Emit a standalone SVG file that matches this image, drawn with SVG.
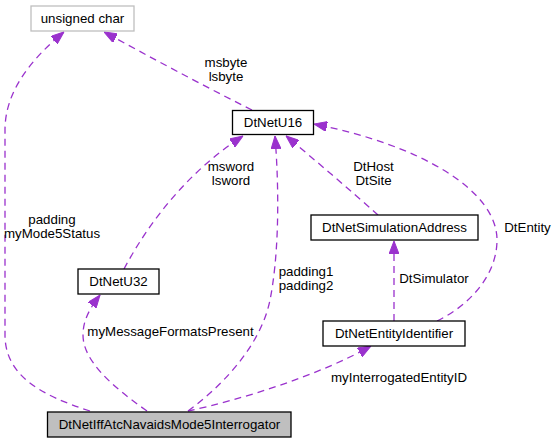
<svg xmlns="http://www.w3.org/2000/svg" width="559" height="443" viewBox="0 0 559 443">
<style>
text{font-family:"Liberation Sans",Arial,sans-serif;font-size:13.3px;fill:#000;text-anchor:middle}
.box{fill:#fff;stroke:#000;stroke-width:1.3}
.gbox{fill:#fff;stroke:#bfbfbf;stroke-width:1.3}
.main{fill:#bfbfbf;stroke:#000;stroke-width:1.3}
.e{fill:none;stroke:#9a32cd;stroke-width:1.3;stroke-dasharray:7,5;marker-end:url(#arr)}
</style>
<defs>
<marker id="arr" markerUnits="userSpaceOnUse" viewBox="0 0 13 10" refX="13" refY="5" markerWidth="13" markerHeight="10" orient="auto">
<path d="M0,0 L13,5 L0,10 z" fill="#9a32cd" stroke="#9a32cd" stroke-width="1"/>
</marker>
</defs>
<rect width="559" height="443" fill="#fff"/>
<g id="connectors">
<path class="e" d="M90,411 C40,395 5,375 5,335 L5,130 C5,92 30,60 64,32"/>
<text x="52" y="224">padding</text>
<text x="52" y="238">myMode5Status</text>
<path class="e" d="M252,110 C200,84 150,57 104,32"/>
<text x="226" y="67">msbyte</text>
<text x="226" y="81">lsbyte</text>
<path class="e" d="M124,269 C150,220 190,170 243,136"/>
<text x="231" y="171">msword</text>
<text x="231" y="185">lsword</text>
<path class="e" d="M188,411 C230,380 262,340 270,300 C278,260 280,200 275,136"/>
<text x="306" y="276">padding1</text>
<text x="306" y="290">padding2</text>
<path class="e" d="M378,215 C350,190 315,160 286,136"/>
<text x="373.5" y="171">DtHost</text>
<text x="373.5" y="185">DtSite</text>
<path class="e" d="M394,321 L394,241"/>
<text x="434" y="283">DtSimulator</text>
<path class="e" d="M437,321 C470,305 497,275 497,240 C497,190 420,145 314,124"/>
<text x="527.5" y="232">DtEntity</text>
<path class="e" d="M188,411 C240,400 320,375 371,346"/>
<text x="399" y="382">myInterrogatedEntityID</text>
<path class="e" d="M147,411 C110,385 83,360 83,335 C83,320 90,308 100,295"/>
<text x="170.5" y="336">myMessageFormatsPresent</text>
</g>
<g id="unsigned_char"><rect class="gbox" x="31" y="6" width="103" height="25"/><text x="82.5" y="23">unsigned char</text></g>
<g id="DtNetU16"><rect class="box" x="232.5" y="110.5" width="81" height="24"/><text x="273" y="127">DtNetU16</text></g>
<g id="DtNetSimulationAddress"><rect class="box" x="311" y="215" width="167" height="25"/><text x="394.5" y="232">DtNetSimulationAddress</text></g>
<g id="DtNetU32"><rect class="box" x="78" y="269" width="81" height="25"/><text x="118.5" y="286">DtNetU32</text></g>
<g id="DtNetEntityIdentifier"><rect class="box" x="323" y="321" width="142" height="25"/><text x="394" y="338">DtNetEntityIdentifier</text></g>
<g id="DtNetIffAtcNavaidsMode5Interrogator"><rect class="main" x="47.5" y="412" width="243.5" height="25"/><text x="169.5" y="429">DtNetIffAtcNavaidsMode5Interrogator</text></g>
</svg>
